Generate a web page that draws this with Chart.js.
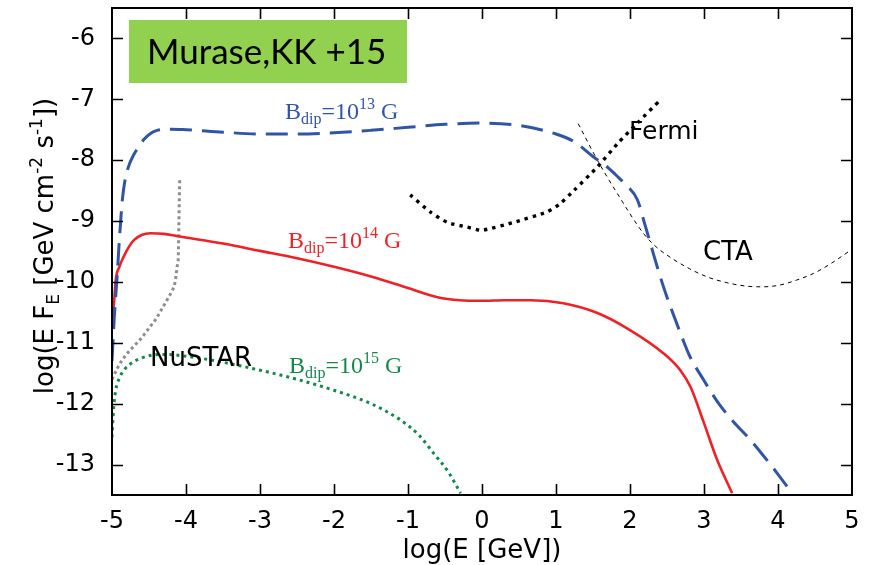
<!DOCTYPE html>
<html>
<head>
<meta charset="utf-8">
<script src="https://cdn.jsdelivr.net/npm/chart.js@4/dist/chart.umd.min.js"></script>
<style>
  html, body { margin: 0; padding: 0; background: #fff; }
  #wrap { width: 875px; height: 565px; }
</style>
</head>
<body>
<div id="wrap"><canvas id="c" width="875" height="565"></canvas></div>
<script>
// log10(E / GeV) and log10(E F_E / GeV cm^-2 s^-1) for each curve
const logE_B13 = [-5, -4.97, -4.93, -4.9, -4.86, -4.82, -4.76, -4.71, -4.64, -4.57, -4.48, -4.39, -4.2, -4.0, -3.5, -3.0, -2.5, -2.0, -1.5, -1.0, -0.5, 0, 0.5, 1.0, 1.25, 1.5, 1.7, 1.85, 1.96, 2.1, 2.2, 2.3, 2.4, 2.5, 2.6, 2.7, 2.8, 3.0, 3.2, 3.4, 3.6, 3.8, 4.0, 4.19];
const flux_B13 = [-11.3, -10.6, -9.9, -9.3, -8.65, -8.3, -8.05, -7.92, -7.78, -7.66, -7.56, -7.51, -7.49, -7.5, -7.54, -7.57, -7.57, -7.55, -7.51, -7.46, -7.41, -7.39, -7.43, -7.57, -7.7, -7.94, -8.12, -8.29, -8.42, -8.65, -9.05, -9.47, -9.88, -10.25, -10.58, -10.9, -11.2, -11.62, -12.0, -12.3, -12.56, -12.85, -13.16, -13.47];

const logE_B14 = [-5, -4.97, -4.95, -4.9, -4.84, -4.77, -4.7, -4.6, -4.48, -4.3, -4.11, -3.5, -3.0, -2.5, -2.0, -1.5, -1.0, -0.6, -0.3, 0, 0.3, 0.66, 1.1, 1.56, 2.0, 2.45, 2.68, 2.82, 3.0, 3.18, 3.38];
const flux_B14 = [-10.68, -10.3, -9.97, -9.75, -9.58, -9.42, -9.31, -9.23, -9.2, -9.21, -9.25, -9.37, -9.49, -9.61, -9.75, -9.91, -10.1, -10.25, -10.3, -10.31, -10.3, -10.3, -10.35, -10.51, -10.79, -11.17, -11.45, -11.73, -12.32, -12.93, -13.47];

const logE_B15 = [-5, -4.98, -4.95, -4.9, -4.84, -4.72, -4.6, -4.45, -4.3, -4.0, -3.5, -3.0, -2.5, -2.0, -1.5, -1.1, -0.85, -0.65, -0.45, -0.29];
const flux_B15 = [-12.55, -12.1, -11.78, -11.58, -11.45, -11.32, -11.25, -11.2, -11.19, -11.22, -11.32, -11.45, -11.6, -11.78, -12.0, -12.27, -12.52, -12.82, -13.13, -13.47];

const logE_NuSTAR = [-5, -4.9, -4.8, -4.6, -4.4, -4.22, -4.16, -4.14, -4.12, -4.105, -4.085];
const flux_NuSTAR = [-11.6, -11.35, -11.18, -10.92, -10.6, -10.22, -10.08, -9.95, -9.75, -9.64, -8.3];

const logE_Fermi = [-0.97, -0.7, -0.47, -0.2, 0, 0.43, 0.88, 1.06, 1.24, 1.56, 1.83, 2.1, 2.41];
const flux_Fermi = [-8.57, -8.85, -9.02, -9.1, -9.15, -9.02, -8.85, -8.71, -8.5, -8.11, -7.73, -7.39, -7.01];

const logE_CTA = [1.3, 1.56, 1.83, 2.18, 2.35, 2.55, 2.8, 3.05, 3.3, 3.58, 3.8, 4.03, 4.25, 4.48, 4.7, 4.98];
const flux_CTA = [-7.4, -8.0, -8.55, -9.2, -9.42, -9.6, -9.78, -9.92, -10.01, -10.07, -10.08, -10.05, -9.97, -9.86, -9.71, -9.48];

const xTicks = [-5, -4, -3, -2, -1, 0, 1, 2, 3, 4, 5];
const yTicks = [-13, -12, -11, -10, -9, -8, -7, -6];

const SANS = "'DejaVu Sans', sans-serif";
const SERIF = "'Liberation Serif', 'DejaVu Serif', serif";

function pts(xs, ys) { return xs.map((x, i) => ({ x: x, y: ys[i] })); }

// draw a run of text pieces (normal / subscript / superscript) left to right
function drawRich(ctx, x, y, parts, family, color, align) {
  ctx.save();
  ctx.fillStyle = color;
  ctx.textBaseline = 'alphabetic';
  ctx.textAlign = 'left';
  let total = 0;
  parts.forEach(p => { ctx.font = p.size + 'px ' + family; total += ctx.measureText(p.t).width; });
  let cx = align === 'center' ? x - total / 2 : x;
  parts.forEach(p => {
    ctx.font = p.size + 'px ' + family;
    ctx.fillText(p.t, cx, y + (p.dy || 0));
    cx += ctx.measureText(p.t).width;
  });
  ctx.restore();
}

const decorations = {
  id: 'decorations',
  afterDatasetsDraw(chart) {
    const ctx = chart.ctx;
    const a = chart.chartArea;
    const xs = chart.scales.x, ys = chart.scales.y;

    // frame
    ctx.save();
    ctx.strokeStyle = '#000';
    ctx.lineWidth = 2;
    ctx.strokeRect(a.left, a.top, a.right - a.left, a.bottom - a.top);

    // inward ticks on all four sides
    const tl = 11;
    ctx.lineWidth = 1.6;
    ctx.beginPath();
    xTicks.forEach(v => {
      if (v === xs.min || v === xs.max) return;
      const px = Math.round(xs.getPixelForValue(v)) + 0.5;
      ctx.moveTo(px, a.bottom); ctx.lineTo(px, a.bottom - tl);
      ctx.moveTo(px, a.top); ctx.lineTo(px, a.top + tl);
    });
    yTicks.forEach(v => {
      const py = Math.round(ys.getPixelForValue(v)) + 0.5;
      ctx.moveTo(a.left, py); ctx.lineTo(a.left + tl, py);
      ctx.moveTo(a.right, py); ctx.lineTo(a.right - tl, py);
    });
    ctx.stroke();
    ctx.restore();

    // reference box
    ctx.save();
    ctx.fillStyle = '#92d050';
    ctx.fillRect(129, 20, 278, 63);
    ctx.fillStyle = '#000';
    ctx.font = "35px 'Lato', 'Open Sans', sans-serif";
    ctx.textBaseline = 'alphabetic';
    ctx.textAlign = 'left';
    ctx.fillText('Murase,KK +15', 147, 64);
    ctx.restore();

    // curve labels
    const blab = (sup) => [
      { t: 'B', size: 24 },
      { t: 'dip', size: 16, dy: 5 },
      { t: '=10', size: 24 },
      { t: sup, size: 16, dy: -10 },
      { t: ' G', size: 24 }
    ];
    drawRich(ctx, 285, 119, blab('13'), SERIF, '#3155a4');
    drawRich(ctx, 288, 248, blab('14'), SERIF, '#ec2226');
    drawRich(ctx, 289, 373, blab('15'), SERIF, '#15874a');

    ctx.save();
    ctx.fillStyle = '#000';
    ctx.textBaseline = 'alphabetic';
    ctx.textAlign = 'left';
    ctx.font = '26px ' + SANS;
    ctx.fillText('NuSTAR', 150, 366);
    ctx.fillText('CTA', 703, 260);
    ctx.font = '25px ' + SANS;
    ctx.fillText('Fermi', 629, 139);
    ctx.restore();

    // axis titles
    drawRich(ctx, (a.left + a.right) / 2, 558, [{ t: 'log(E [GeV])', size: 26 }], SANS, '#000', 'center');
    ctx.save();
    ctx.translate(53, 246);
    ctx.rotate(-Math.PI / 2);
    drawRich(ctx, 0, 0, [
      { t: 'log(E F', size: 26 },
      { t: 'E', size: 17, dy: 6 },
      { t: ' [GeV cm', size: 26 },
      { t: '-2', size: 17, dy: -11 },
      { t: ' s', size: 26 },
      { t: '-1', size: 17, dy: -11 },
      { t: '])', size: 26 }
    ], SANS, '#000', 'center');
    ctx.restore();
  }
};

const base = { pointRadius: 0, pointHoverRadius: 0, fill: false, showLine: true, borderCapStyle: 'butt' };

function noPad(s) { s.paddingTop = 0; s.paddingBottom = 0; s.paddingLeft = 0; s.paddingRight = 0; }

new Chart(document.getElementById('c'), {
  type: 'scatter',
  data: {
    datasets: [
      Object.assign({}, base, { label: 'B13', data: pts(logE_B13, flux_B13), borderColor: '#3155a4', borderWidth: 3, borderDash: [22, 10], cubicInterpolationMode: 'monotone' }),
      Object.assign({}, base, { label: 'B14', data: pts(logE_B14, flux_B14), borderColor: '#ec2226', borderWidth: 2.6, cubicInterpolationMode: 'monotone' }),
      Object.assign({}, base, { label: 'B15', data: pts(logE_B15, flux_B15), borderColor: '#15874a', borderWidth: 3, borderDash: [3, 4], cubicInterpolationMode: 'monotone' }),
      Object.assign({}, base, { label: 'NuSTAR', data: pts(logE_NuSTAR, flux_NuSTAR), borderColor: '#8e8e8e', borderWidth: 3, borderDash: [3, 3], tension: 0 }),
      Object.assign({}, base, { label: 'Fermi', data: pts(logE_Fermi, flux_Fermi), borderColor: '#000', borderWidth: 3.4, borderDash: [3.4, 5], tension: 0.2 }),
      Object.assign({}, base, { label: 'CTA', data: pts(logE_CTA, flux_CTA), borderColor: '#000', borderWidth: 1, borderDash: [4, 4], cubicInterpolationMode: 'monotone' })
    ]
  },
  options: {
    responsive: false,
    devicePixelRatio: 1,
    animation: false,
    events: [],
    layout: { padding: { left: 0, right: 23, top: 8, bottom: 0 } },
    plugins: { legend: { display: false }, tooltip: { enabled: false }, title: { display: false } },
    scales: {
      x: {
        type: 'linear', min: -5, max: 5,
        grid: { display: false, drawTicks: false },
        border: { display: false },
        ticks: { autoSkip: false, maxRotation: 0, color: '#000', font: { family: SANS, size: 24 }, padding: 12 },
        afterBuildTicks(s) { s.ticks = xTicks.map(v => ({ value: v })); },
        afterFit(s) { s.height = 70; noPad(s); }
      },
      y: {
        type: 'linear', min: -13.5, max: -5.5,
        grid: { display: false, drawTicks: false },
        border: { display: false },
        ticks: { autoSkip: false, color: '#000', font: { family: SANS, size: 24 }, padding: 17 },
        afterBuildTicks(s) { s.ticks = yTicks.map(v => ({ value: v })); },
        afterFit(s) { s.width = 112; noPad(s); }
      }
    }
  },
  plugins: [decorations]
});
</script>
</body>
</html>
